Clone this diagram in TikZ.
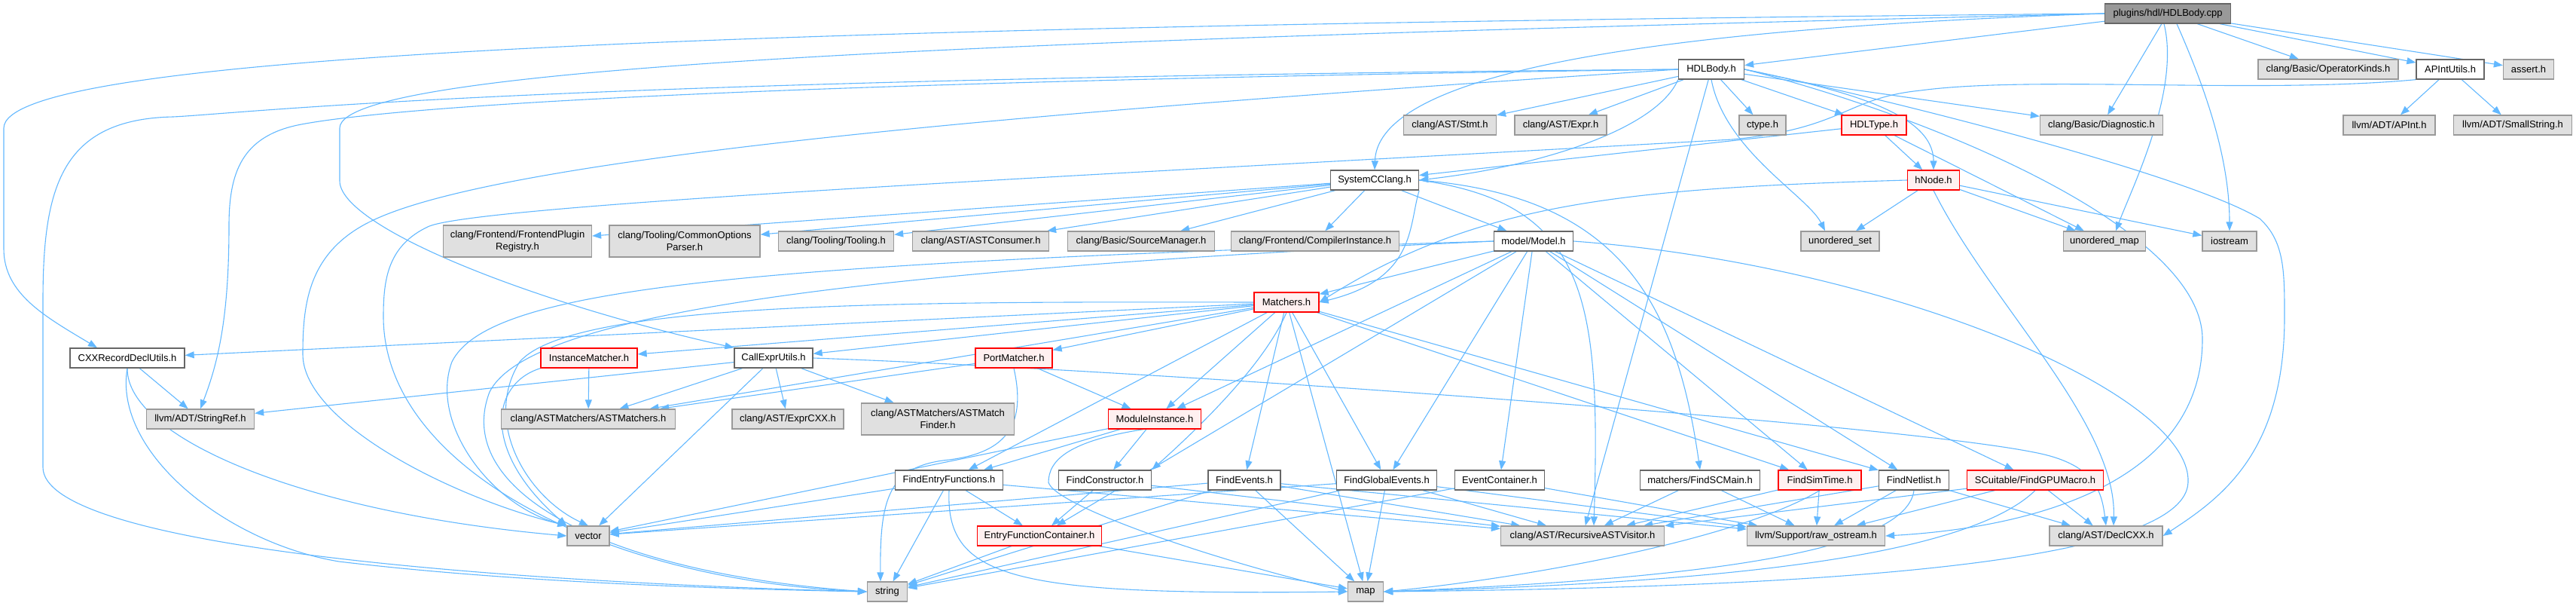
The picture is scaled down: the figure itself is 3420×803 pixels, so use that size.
\documentclass[tikz,border=0pt]{standalone}
\usepackage{fontspec}
\setmainfont{Liberation Sans}
\usetikzlibrary{arrows.meta}
\pgfdeclarelayer{bg}
\pgfsetlayers{bg,main}
\definecolor{edgec}{HTML}{63B8FF}
\definecolor{gfill}{HTML}{E0E0E0}
\definecolor{gdraw}{HTML}{999999}
\definecolor{wdraw}{HTML}{666666}
\definecolor{rfill}{HTML}{FFF0F0}
\definecolor{cppfill}{HTML}{999999}
\newcommand{\bx}[6]{\node[#5,minimum width=#4pt] (#1) at (#2,#3) {#6};}
\tikzset{
  box/.style={draw, line width=1.3pt, inner sep=0pt, minimum height=26pt, align=center,
    font=\fontsize{13}{16}\selectfont},
  wbox/.style={box, fill=white, draw=wdraw},
  gbox/.style={box, fill=gfill, draw=gdraw},
  rbox/.style={box, fill=rfill, draw=red},
  cppbox/.style={box, fill=cppfill, draw=wdraw},
  tall/.style={minimum height=42pt},
  dep/.style={draw=edgec, line width=1.1pt, -{Triangle[length=12pt,width=9pt]}}
}
\begin{document}
\begin{tikzpicture}[x=1pt,y=-1pt]
\useasboundingbox (0,0) rectangle (3420,803);
% row 0
\bx{cpp}{2878}{18}{167}{cppbox}{plugins/hdl/HDLBody.cpp}
% row 1
\bx{hdlbody}{2272}{92}{87}{wbox}{HDLBody.h}
\bx{opkinds}{3091}{92}{186}{gbox}{clang/Basic/OperatorKinds.h}
\bx{apintutils}{3253}{92}{90}{wbox}{APIntUtils.h}
\bx{assert}{3357}{92}{67}{gbox}{assert.h}
% row 2
\bx{stmt}{1925}{166}{123}{gbox}{clang/AST/Stmt.h}
\bx{expr}{2072}{166}{122}{gbox}{clang/AST/Expr.h}
\bx{ctype}{2340}{166}{62}{gbox}{ctype.h}
\bx{hdltype}{2488}{166}{86}{rbox}{HDLType.h}
\bx{diag}{2790}{166}{163}{gbox}{clang/Basic/Diagnostic.h}
\bx{apint}{3172}{166}{122}{gbox}{llvm/ADT/APInt.h}
\bx{smallstr}{3336}{166}{157}{gbox}{llvm/ADT/SmallString.h}
% row 3
\bx{scclang}{1825}{239}{117}{wbox}{SystemCClang.h}
\bx{hnode}{2567}{239}{69}{rbox}{hNode.h}
% row 4
\bx{fpr}{687}{320}{197}{gbox,tall}{clang/Frontend/FrontendPlugin\\Registry.h}
\bx{cop}{909}{320}{200}{gbox,tall}{clang/Tooling/CommonOptions\\Parser.h}
\bx{tooling}{1110}{320}{153}{gbox}{clang/Tooling/Tooling.h}
\bx{astcons}{1302}{320}{181}{gbox}{clang/AST/ASTConsumer.h}
\bx{srcmgr}{1515}{320}{195}{gbox}{clang/Basic/SourceManager.h}
\bx{compinst}{1746}{320}{223}{gbox}{clang/Frontend/CompilerInstance.h}
\bx{model}{2036}{320}{105}{wbox}{model/Model.h}
\bx{uset}{2443}{320}{104}{gbox}{unordered\_set}
\bx{umap}{2794}{320}{109}{gbox}{unordered\_map}
\bx{iostream}{2960}{320}{72}{gbox}{iostream}
% row 5
\bx{matchers}{1708}{401}{86}{rbox}{Matchers.h}
% row 6
\bx{cxxrd}{169}{475}{152}{wbox}{CXXRecordDeclUtils.h}
\bx{instm}{782}{475}{128}{rbox}{InstanceMatcher.h}
\bx{callexpr}{1027}{475}{104}{wbox}{CallExprUtils.h}
\bx{portm}{1346}{475}{102}{rbox}{PortMatcher.h}
% row 7
\bx{stringref}{266}{556}{143}{gbox}{llvm/ADT/StringRef.h}
\bx{astm}{781}{556}{231}{gbox}{clang/ASTMatchers/ASTMatchers.h}
\bx{exprcxx}{1046}{556}{148}{gbox}{clang/AST/ExprCXX.h}
\bx{astmf}{1245}{556}{203}{gbox,tall}{clang/ASTMatchers/ASTMatch\\Finder.h}
\bx{modinst}{1533}{556}{123}{rbox}{ModuleInstance.h}
% row 8
\bx{findentry}{1260}{637}{143}{wbox}{FindEntryFunctions.h}
\bx{findctor}{1467}{637}{123}{wbox}{FindConstructor.h}
\bx{findevents}{1652}{637}{96}{wbox}{FindEvents.h}
\bx{findglobal}{1841}{637}{133}{wbox}{FindGlobalEvents.h}
\bx{eventcont}{1991}{637}{119}{wbox}{EventContainer.h}
\bx{findscmain}{2257}{637}{159}{wbox}{matchers/FindSCMain.h}
\bx{findsimtime}{2416}{637}{110}{rbox}{FindSimTime.h}
\bx{findnetlist}{2541}{637}{93}{wbox}{FindNetlist.h}
\bx{findgpu}{2702}{637}{181}{rbox}{SCuitable/FindGPUMacro.h}
% row 9
\bx{vector}{781}{711}{56}{gbox}{vector}
\bx{efc}{1380}{711}{165}{rbox}{EntryFunctionContainer.h}
\bx{rav}{2101}{711}{217}{gbox}{clang/AST/RecursiveASTVisitor.h}
\bx{rawos}{2411}{711}{183}{gbox}{llvm/Support/raw\_ostream.h}
\bx{declcxx}{2796}{711}{150}{gbox}{clang/AST/DeclCXX.h}
% row 10
\bx{string}{1178}{785}{53}{gbox}{string}
\bx{map}{1813}{785}{47}{gbox}{map}

\begin{pgfonlayer}{bg}
\foreach \a/\b in {cpp/hdlbody, cpp/opkinds, cpp/apintutils, cpp/assert, cpp/diag,
  hdlbody/stmt, hdlbody/expr, hdlbody/ctype, hdlbody/hdltype, hdlbody/diag, hdlbody/rav,
  apintutils/apint, apintutils/smallstr,
  hdltype/scclang, hdltype/hnode, hdltype/umap,
  hnode/uset, hnode/umap, hnode/iostream,
  scclang/fpr, scclang/cop, scclang/tooling, scclang/astcons, scclang/srcmgr, scclang/compinst, scclang/model,
  model/matchers, model/modinst, model/efc, model/findglobal, model/eventcont, model/findsimtime, model/findnetlist, model/findgpu,
  matchers/cxxrd, matchers/instm, matchers/callexpr, matchers/astm, matchers/portm, matchers/findentry,
  matchers/modinst, matchers/findevents, matchers/map, matchers/findglobal, matchers/findsimtime, matchers/findnetlist,
  cxxrd/stringref, instm/astm,
  callexpr/stringref, callexpr/astm, callexpr/exprcxx, callexpr/astmf, callexpr/vector,
  portm/astm, portm/modinst,
  modinst/findentry, modinst/findctor, modinst/vector,
  findentry/efc, findentry/string, findentry/rav, findentry/vector,
  findctor/efc, findctor/rav,
  findevents/vector, findevents/string, findevents/map, findevents/rav, findevents/rawos,
  findglobal/vector, findglobal/string, findglobal/map, findglobal/rav, findglobal/rawos,
  eventcont/string, eventcont/rawos, efc/string, efc/map,
  findscmain/rav, findscmain/rawos,
  findsimtime/rav, findsimtime/rawos,
  findnetlist/rav, findnetlist/rawos, findnetlist/declcxx,
  findgpu/rav, findgpu/rawos, findgpu/declcxx}
  \draw[dep] (\a) -- (\b);
% curved connectors
\draw[dep] ([xshift=-5pt]cpp.south) .. controls (2895,120) and (2830,250) .. ([xshift=15pt]umap.north);
\draw[dep] ([xshift=12pt]cpp.south) .. controls (2920,100) and (2960,200) .. (iostream.north);
\draw[dep] (cpp.west) .. controls (2300,35) and (1830,80) .. (scclang.north);
\draw[dep] (cpp.west) .. controls (1000,35) and (5,70) .. (5,170) -- (5,330) .. controls (5,390) and (60,420) .. ([xshift=-40pt]cxxrd.north);
\draw[dep] (cpp.west) .. controls (1500,50) and (451,80) .. (451,170) -- (451,240) .. controls (451,300) and (700,400) .. (callexpr.north west);
\draw[dep] (hdlbody.south west) .. controls (2200,170) and (2050,220) .. (scclang.east);
\draw[dep] (hdlbody.east) .. controls (2450,120) and (2567,150) .. (hnode.north);
\draw[dep] (hdlbody.south) .. controls (2290,200) and (2400,260) .. ([xshift=-20pt]uset.north);
\draw[dep] (hdlbody.west) .. controls (700,105) and (330,150) .. (230,155) .. controls (80,158) and (57,250) .. (57,400) -- (57,620) .. controls (57,720) and (600,770) .. (string.west);
\draw[dep] (hdlbody.west) .. controls (800,112) and (480,150) .. (400,165) .. controls (320,180) and (304,230) .. (304,300) .. controls (304,420) and (290,480) .. (stringref.north);
\draw[dep] (hdlbody.west) .. controls (1500,140) and (700,200) .. (500,290) .. controls (410,330) and (402,400) .. (402,470) .. controls (402,560) and (600,660) .. (vector.north west);
\draw[dep] (hdlbody.east) .. controls (2500,130) and (2900,230) .. (3000,290) .. controls (3033,320) and (3033,360) .. (3033,420) .. controls (3033,600) and (2950,660) .. (declcxx.east);
\draw[dep] (hdlbody.east) .. controls (2550,150) and (2924,300) .. (2924,450) .. controls (2924,640) and (2700,700) .. (rawos.east);
\draw[dep] (apintutils.south west) .. controls (3000,125) and (2700,100) .. (2550,120) .. controls (2450,130) and (2450,170) .. (2300,185) .. controls (1500,230) and (650,270) .. (570,300) .. controls (515,325) and (509,370) .. (509,420) .. controls (509,620) and (800,770) .. (string.west);
\draw[dep] (hnode.west) .. controls (2150,250) and (1960,270) .. (matchers.east);
\draw[dep] (hnode.south) .. controls (2640,400) and (2810,560) .. ([xshift=10pt]declcxx.north);
\draw[dep] (scclang.south east) .. controls (1870,300) and (1880,370) .. (matchers.east);
\draw[dep] (scclang.east) .. controls (2110,270) and (2125,400) .. ([xshift=15pt]rav.north);
\draw[dep] (scclang.east) .. controls (2150,260) and (2225,400) .. (findscmain.north);
\draw[dep] (model.east) .. controls (2500,350) and (2910,520) .. (2905,640) .. controls (2900,760) and (2300,780) .. (map.east);
\draw[dep] (model.west) .. controls (1000,350) and (650,380) .. (600,480) .. controls (570,560) and (650,670) .. (vector.north west);
\draw[dep] (model.west) .. controls (1100,360) and (700,420) .. (650,520) .. controls (600,650) and (800,760) .. (string.west);
\draw[dep] (matchers.west) .. controls (1200,400) and (760,400) .. (690,480) .. controls (640,560) and (700,660) .. (vector.north);
\draw[dep] (callexpr.east) .. controls (1500,490) and (2500,560) .. (2700,600) .. controls (2780,615) and (2790,650) .. (declcxx.north);
\draw[dep] (instm.south west) .. controls (650,510) and (640,600) .. (vector.north west);
\draw[dep] (cxxrd.south) .. controls (168,580) and (400,680) .. (vector.west);
\draw[dep] (cxxrd.south) .. controls (150,600) and (300,720) .. (450,745) .. controls (700,775) and (1000,782) .. (string.west);
\draw[dep] (portm.south) .. controls (1362,560) and (1340,600) .. (1260,610) .. controls (1180,618) and (1168,660) .. ([xshift=-9pt]string.north);
\draw[dep] ([xshift=-15pt]modinst.south) .. controls (1420,585) and (1392,610) .. (1392,640) .. controls (1400,670) and (1600,740) .. (map.west);
\draw[dep] (findentry.south) .. controls (1255,770) and (1350,790) .. (map.west);
\draw[dep] (matchers.south) .. controls (1680,480) and (1600,560) .. (findctor.north east);
\draw[dep] (findsimtime.south) .. controls (2300,720) and (2000,770) .. (map.east);
\draw[dep] (findnetlist.south) .. controls (2530,740) and (2200,770) .. (map.east);
\draw[dep] (findgpu.south) .. controls (2600,750) and (2200,775) .. (map.east);
\end{pgfonlayer}
\end{tikzpicture}
\end{document}
